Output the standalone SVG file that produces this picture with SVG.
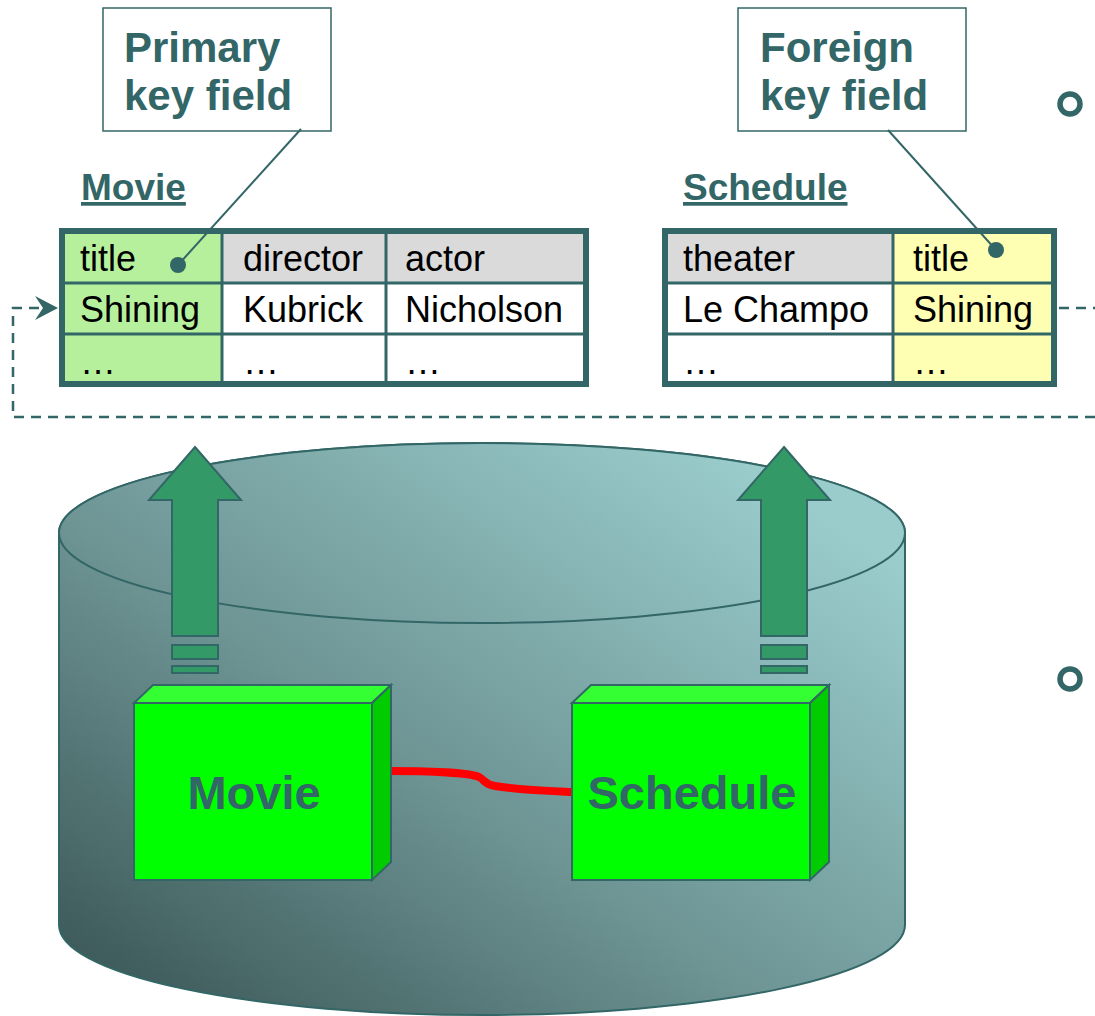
<svg xmlns="http://www.w3.org/2000/svg" width="1095" height="1016" viewBox="0 0 1095 1016">
  <defs>
    <linearGradient id="cyl" gradientUnits="userSpaceOnUse" x1="250" y1="1080" x2="700" y2="430">
      <stop offset="0" stop-color="#3E5A5A"/>
      <stop offset="0.45" stop-color="#6E9494"/>
      <stop offset="1" stop-color="#9ACCCC"/>
    </linearGradient>
    <style>
      .teal { fill: #336666; }
      .callout { fill: #ffffff; stroke: #336666; stroke-width: 1.5; }
      .callText { font-family: "Liberation Sans", Arial, sans-serif; font-weight: bold; font-size: 42px; fill: #336666; }
      .tblTitle { font-family: "Liberation Sans", Arial, sans-serif; font-weight: bold; font-size: 37px; fill: #336666; text-decoration: underline; }
      .cell { font-family: "Liberation Sans", Arial, sans-serif; font-size: 36px; fill: #000000; }
      .grid { stroke: #336666; stroke-width: 3; fill: none; }
      .outer { stroke: #336666; stroke-width: 6; fill: none; }
      .lead { stroke: #336666; stroke-width: 2; fill: none; }
      .dash { stroke: #336666; stroke-width: 2.5; fill: none; stroke-dasharray: 10 7; }
      .arrow { fill: #339966; stroke: #336666; stroke-width: 2; }
      .front { fill: #00FF00; stroke: #336666; stroke-width: 2; }
      .top { fill: #33FF33; stroke: #336666; stroke-width: 2; }
      .side { fill: #00CC00; stroke: #336666; stroke-width: 2; }
      .boxText { font-family: "Liberation Sans", Arial, sans-serif; font-weight: bold; font-size: 47px; fill: #336666; text-anchor: middle; }
      .ring { fill: none; stroke: #336666; stroke-width: 5.5; }
    </style>
  </defs>

  <rect width="1095" height="1016" fill="#ffffff"/>

  <!-- database cylinder -->
  <g id="database">
    <path d="M59,533 A423,90 0 0 1 905,533 L905,925 A423,90 0 0 1 59,925 Z" fill="url(#cyl)" stroke="#336666" stroke-width="2"/>
    <ellipse cx="482" cy="533" rx="423" ry="90" fill="url(#cyl)" stroke="#336666" stroke-width="2"/>
  </g>

  <!-- callouts -->
  <g id="primary-callout">
    <rect class="callout" x="103" y="8" width="228" height="123"/>
    <text class="callText" x="124" y="62">Primary</text>
    <text class="callText" x="124" y="110">key field</text>
  </g>
  <g id="foreign-callout">
    <rect class="callout" x="738" y="8" width="228" height="123"/>
    <text class="callText" x="760" y="62">Foreign</text>
    <text class="callText" x="760" y="110">key field</text>
  </g>

  <!-- Movie table -->
  <g id="movie-table">
    <text class="tblTitle" x="81" y="200">Movie</text>
    <rect x="62" y="231" width="160" height="153" fill="#B6F09C"/>
    <rect x="222" y="231" width="364" height="52" fill="#DADADA"/>
    <rect x="222" y="283" width="364" height="101" fill="#FFFFFF"/>
    <line class="grid" x1="222" y1="231" x2="222" y2="384"/>
    <line class="grid" x1="386" y1="231" x2="386" y2="384"/>
    <line class="grid" x1="62" y1="283" x2="586" y2="283"/>
    <line class="grid" x1="62" y1="334" x2="586" y2="334"/>
    <rect class="outer" x="62" y="231" width="524" height="153"/>
    <text class="cell" x="80" y="271">title</text>
    <text class="cell" x="243" y="271">director</text>
    <text class="cell" x="405" y="271">actor</text>
    <text class="cell" x="80" y="322">Shining</text>
    <text class="cell" x="243" y="322">Kubrick</text>
    <text class="cell" x="405" y="322">Nicholson</text>
    <text class="cell" x="80" y="374">…</text>
    <text class="cell" x="243" y="374">…</text>
    <text class="cell" x="405" y="374">…</text>
  </g>

  <!-- Schedule table -->
  <g id="schedule-table">
    <text class="tblTitle" x="683" y="200">Schedule</text>
    <rect x="665" y="231" width="228" height="52" fill="#DADADA"/>
    <rect x="665" y="283" width="228" height="101" fill="#FFFFFF"/>
    <rect x="893" y="231" width="161" height="153" fill="#FFFFB4"/>
    <line class="grid" x1="893" y1="231" x2="893" y2="384"/>
    <line class="grid" x1="665" y1="283" x2="1054" y2="283"/>
    <line class="grid" x1="665" y1="334" x2="1054" y2="334"/>
    <rect class="outer" x="665" y="231" width="389" height="153"/>
    <text class="cell" x="683" y="271">theater</text>
    <text class="cell" x="913" y="271">title</text>
    <text class="cell" x="683" y="322">Le Champo</text>
    <text class="cell" x="913" y="322">Shining</text>
    <text class="cell" x="683" y="374">…</text>
    <text class="cell" x="913" y="374">…</text>
  </g>

  <!-- connectors -->
  <g id="connectors">
    <line class="lead" x1="301" y1="129" x2="178" y2="265"/>
    <circle class="teal" cx="178" cy="265" r="8"/>
    <line class="lead" x1="888" y1="130" x2="996" y2="250"/>
    <circle class="teal" cx="996" cy="250" r="8"/>
    <path class="dash" d="M1095,417 L13,417 L13,308 L42,308"/>
    <polygon class="teal" points="58,308 35,296 43,308 35,320"/>
    <line class="dash" x1="1059" y1="308" x2="1095" y2="308"/>
    <path d="M391,771 C430,771 470,773 479,777 C485,780 484,784 495,786 C520,790 550,791 572,792" fill="none" stroke="#FF0000" stroke-width="8"/>
    <g id="arrow-movie">
      <polygon class="arrow" points="195,447 241,500 218,500 218,636 172,636 172,500 149,500"/>
      <rect class="arrow" x="172" y="645" width="46" height="14"/>
      <rect class="arrow" x="172" y="666" width="46" height="7"/>
    </g>
    <g id="arrow-schedule">
      <polygon class="arrow" points="784,447 830,500 807,500 807,636 761,636 761,500 738,500"/>
      <rect class="arrow" x="761" y="645" width="46" height="14"/>
      <rect class="arrow" x="761" y="666" width="46" height="7"/>
    </g>
  </g>

  <!-- Movie box -->
  <g id="movie-box">
    <polygon class="top" points="134,703 153,685 391,685 372,703"/>
    <polygon class="side" points="372,703 391,685 391,862 372,880"/>
    <rect class="front" x="134" y="703" width="238" height="177"/>
    <text class="boxText" x="254" y="809">Movie</text>
  </g>

  <!-- Schedule box -->
  <g id="schedule-box">
    <polygon class="top" points="572,703 591,685 829,685 810,703"/>
    <polygon class="side" points="810,703 829,685 829,862 810,880"/>
    <rect class="front" x="572" y="703" width="238" height="177"/>
    <text class="boxText" x="692" y="809">Schedule</text>
  </g>

  <!-- bullets -->
  <g id="bullet-1"><circle class="ring" cx="1070" cy="104" r="10"/></g>
  <g id="bullet-2"><circle class="ring" cx="1070" cy="679" r="10"/></g>
</svg>
